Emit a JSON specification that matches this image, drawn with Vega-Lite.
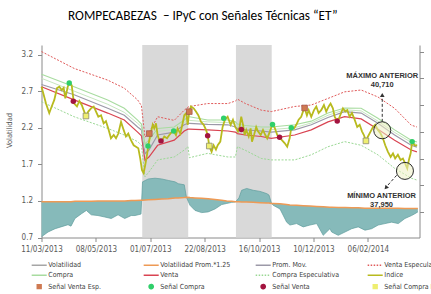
{
"$schema":"https://vega.github.io/schema/vega-lite/v6.json",
"width":378,"height":192.5,
"autosize":{"type":"none"},
"padding":{"left":41.5,"top":45,"right":11.5,"bottom":56.5},
"background":"white",
"title":{"text":"ROMPECABEZAS \u00a0– IPyC con Señales Técnicas “ET”","anchor":"start","frame":"group","dx":26.5,"offset":12,"baseline":"alphabetic","font":"Carlito, Lato","fontSize":13.3,"fontWeight":400,"color":"#000000"},
"config":{
 "view":{"stroke":null},
 "axis":{"domainColor":"#8a8a8a","tickColor":"#8a8a8a","labelColor":"#595959","labelFont":"Liberation Sans Narrow, Arial Narrow, DejaVu Sans Condensed, Liberation Sans, sans-serif","labelFontSize":8,"titleFont":"Liberation Sans Narrow, Arial Narrow, DejaVu Sans Condensed, Liberation Sans, sans-serif","grid":false}
},
"resolve":{"axis":{"y":"independent"}},
"datasets":{
 "shade":[{"t":74.1,"t2":107.9},{"t":143,"t2":169.3}],
 "bands":[
  {"t":0,"dr":3.24,"g":2.93,"g2":2.875,"pm":2.79,"r":2.76,"dg":2.555},
  {"t":24,"dr":3.01,"g":2.76,"g2":2.70,"pm":2.65,"r":2.58,"dg":2.35},
  {"t":48.7,"dr":2.85,"g":2.58,"g2":2.52,"pm":2.465,"r":2.40,"dg":2.19},
  {"t":60.9,"dr":2.74,"g":2.465,"g2":2.41,"pm":2.37,"r":2.305,"dg":2.10},
  {"t":70.7,"dr":2.58,"g":2.305,"g2":2.26,"pm":2.21,"r":2.14,"dg":2.01},
  {"t":73.5,"dr":2.50,"g":2.25,"g2":2.21,"pm":2.17,"r":2.09,"dg":1.96},
  {"t":76.1,"dr":2.07,"g":1.98,"g2":1.92,"pm":1.845,"r":1.755,"dg":1.53},
  {"t":79,"dr":2.13,"g":2.03,"g2":1.98,"pm":1.895,"r":1.80,"dg":1.595},
  {"t":85.4,"dr":2.35,"g":2.19,"g2":2.15,"pm":2.10,"r":1.96,"dg":1.76},
  {"t":97.6,"dr":2.30,"g":2.21,"g2":2.175,"pm":2.14,"r":2.03,"dg":1.80},
  {"t":105,"dr":2.44,"g":2.305,"g2":2.27,"pm":2.24,"r":2.155,"dg":1.895},
  {"t":107.7,"dr":2.48,"g":2.35,"g2":2.305,"pm":2.26,"r":2.18,"dg":1.94},
  {"t":108.8,"dr":2.49,"g":2.35,"g2":2.30,"pm":2.26,"r":2.18,"dg":1.79},
  {"t":122.2,"dr":2.53,"g":2.305,"g2":2.28,"pm":2.245,"r":2.17,"dg":1.85},
  {"t":137.1,"dr":2.53,"g":2.305,"g2":2.27,"pm":2.24,"r":2.155,"dg":1.80},
  {"t":142.6,"dr":2.565,"g":2.28,"g2":2.25,"pm":2.21,"r":2.14,"dg":1.80},
  {"t":144.1,"dr":2.59,"g":2.25,"g2":2.225,"pm":2.19,"r":2.12,"dg":1.94},
  {"t":150,"dr":2.53,"g":2.23,"g2":2.20,"pm":2.17,"r":2.10,"dg":1.89},
  {"t":161.6,"dr":2.44,"g":2.21,"g2":2.18,"pm":2.155,"r":2.08,"dg":1.78},
  {"t":169,"dr":2.42,"g":2.21,"g2":2.175,"pm":2.14,"r":2.055,"dg":1.76},
  {"t":186.2,"dr":2.49,"g":2.24,"g2":2.20,"pm":2.17,"r":2.10,"dg":1.76},
  {"t":198.4,"dr":2.51,"g":2.29,"g2":2.265,"pm":2.24,"r":2.17,"dg":1.83},
  {"t":210.7,"dr":2.60,"g":2.40,"g2":2.37,"pm":2.34,"r":2.28,"dg":1.94},
  {"t":222.9,"dr":2.69,"g":2.47,"g2":2.445,"pm":2.42,"r":2.35,"dg":2.01},
  {"t":235.1,"dr":2.715,"g":2.465,"g2":2.43,"pm":2.40,"r":2.32,"dg":1.96},
  {"t":247.4,"dr":2.62,"g":2.33,"g2":2.29,"pm":2.26,"r":2.18,"dg":1.83},
  {"t":259.7,"dr":2.465,"g":2.17,"g2":2.135,"pm":2.10,"r":2.03,"dg":1.645},
  {"t":271.9,"dr":2.235,"g":2.03,"g2":2.00,"pm":1.96,"r":1.895,"dg":1.51},
  {"t":276.1,"dr":2.21,"g":2.005,"g2":1.97,"pm":1.935,"r":1.87,"dg":1.485}
 ],
 "vol":[
  {"t":0,"vol":0.71,"vp":1.19},{"t":4.8,"vol":0.775,"vp":1.19},{"t":10,"vol":0.82,"vp":1.19},{"t":14.3,"vol":0.845,"vp":1.19},
  {"t":19.5,"vol":0.875,"vp":1.19},{"t":21.7,"vol":0.855,"vp":1.19},{"t":24.6,"vol":0.96,"vp":1.195},{"t":29.4,"vol":1.025,"vp":1.195},
  {"t":33,"vol":1.07,"vp":1.195},{"t":36.6,"vol":1.01,"vp":1.195},{"t":41.5,"vol":1.0,"vp":1.2},{"t":46.5,"vol":0.98,"vp":1.2},
  {"t":51.3,"vol":0.96,"vp":1.2},{"t":56.3,"vol":1.01,"vp":1.2},{"t":61.2,"vol":0.96,"vp":1.2},{"t":66,"vol":1.0,"vp":1.205},
  {"t":68.8,"vol":1.0,"vp":1.205},{"t":73.2,"vol":1.02,"vp":1.21},{"t":74.3,"vol":1.46,"vp":1.21},{"t":78.5,"vol":1.50,"vp":1.215},
  {"t":83.5,"vol":1.51,"vp":1.22},{"t":88.4,"vol":1.50,"vp":1.225},{"t":93.2,"vol":1.48,"vp":1.23},{"t":98.2,"vol":1.46,"vp":1.24},
  {"t":100.6,"vol":1.435,"vp":1.24},{"t":105,"vol":1.42,"vp":1.245},{"t":106.6,"vol":1.25,"vp":1.25},{"t":109.2,"vol":1.14,"vp":1.245},
  {"t":112.9,"vol":1.07,"vp":1.24},{"t":117.8,"vol":1.04,"vp":1.235},{"t":122.6,"vol":1.05,"vp":1.23},{"t":127.6,"vol":1.09,"vp":1.22},
  {"t":132.5,"vol":1.15,"vp":1.21},{"t":136.2,"vol":1.165,"vp":1.2},{"t":139.9,"vol":1.18,"vp":1.195},{"t":142.6,"vol":1.185,"vp":1.19},
  {"t":145.2,"vol":1.24,"vp":1.19},{"t":147.2,"vol":1.345,"vp":1.185},{"t":150.9,"vol":1.37,"vp":1.185},{"t":155.7,"vol":1.345,"vp":1.18},
  {"t":160.7,"vol":1.33,"vp":1.175},{"t":165.6,"vol":1.30,"vp":1.17},{"t":167.3,"vol":1.28,"vp":1.17},{"t":169.1,"vol":1.17,"vp":1.165},
  {"t":170.4,"vol":1.14,"vp":1.165},{"t":175.4,"vol":1.09,"vp":1.16},{"t":180.3,"vol":0.91,"vp":1.15},{"t":182.7,"vol":0.87,"vp":1.145},
  {"t":187.6,"vol":0.89,"vp":1.14},{"t":192.5,"vol":0.845,"vp":1.135},{"t":197.4,"vol":0.87,"vp":1.13},{"t":202.4,"vol":0.89,"vp":1.125},
  {"t":207.2,"vol":0.73,"vp":1.12},{"t":212.1,"vol":0.82,"vp":1.115},{"t":213.4,"vol":0.775,"vp":1.115},{"t":218.2,"vol":0.73,"vp":1.11},
  {"t":223.2,"vol":0.775,"vp":1.11},{"t":228.1,"vol":0.82,"vp":1.105},{"t":232.9,"vol":0.845,"vp":1.105},{"t":237.9,"vol":0.80,"vp":1.1},
  {"t":242.8,"vol":0.82,"vp":1.1},{"t":247.6,"vol":0.87,"vp":1.1},{"t":252.6,"vol":0.89,"vp":1.1},{"t":257.5,"vol":0.91,"vp":1.1},
  {"t":262.4,"vol":0.89,"vp":1.1},{"t":267.3,"vol":0.96,"vp":1.095},{"t":272.2,"vol":1.0,"vp":1.095},{"t":274.6,"vol":1.025,"vp":1.095},
  {"t":276.8,"vol":1.05,"vp":1.095}
 ],
 "idx":[
  {"t":0,"y":2.76},{"t":1.6,"y":2.65},{"t":3.3,"y":2.53},{"t":5.7,"y":2.40},{"t":7.5,"y":2.49},{"t":9.4,"y":2.58},{"t":11.4,"y":2.74},{"t":13.1,"y":2.76},{"t":14.9,"y":2.715},{"t":16.3,"y":2.745},
  {"t":17.5,"y":2.60},{"t":19.3,"y":2.76},{"t":20.4,"y":2.81},{"t":22.2,"y":2.78},{"t":23.4,"y":2.60},{"t":24.1,"y":2.53},{"t":26.1,"y":2.49},{"t":27.8,"y":2.565},{"t":29.6,"y":2.51},{"t":31.0,"y":2.44},
  {"t":32.7,"y":2.36},{"t":34.4,"y":2.42},{"t":36.4,"y":2.465},{"t":38.4,"y":2.49},{"t":40.1,"y":2.42},{"t":41.8,"y":2.35},{"t":43.8,"y":2.37},{"t":45.7,"y":2.26},{"t":47.4,"y":2.29},{"t":49.1,"y":2.19},
  {"t":51.1,"y":2.055},{"t":53.1,"y":2.10},{"t":54.8,"y":2.055},{"t":56.5,"y":2.12},{"t":58.5,"y":2.28},{"t":60.4,"y":2.17},{"t":62.1,"y":2.08},{"t":63.8,"y":2.12},{"t":65.8,"y":2.03},{"t":67.8,"y":1.96},
  {"t":69.5,"y":1.94},{"t":71.2,"y":1.92},{"t":72.6,"y":1.78},{"t":73.9,"y":1.62},{"t":75.1,"y":1.58},{"t":76.3,"y":1.69},{"t":77.6,"y":1.83},{"t":78.5,"y":1.95},{"t":80.0,"y":2.10},{"t":81.8,"y":2.24},
  {"t":82.9,"y":2.19},{"t":84.2,"y":2.26},{"t":85.4,"y":2.10},{"t":86.6,"y":2.03},{"t":88.4,"y":2.02},{"t":90.3,"y":2.08},{"t":92.3,"y":2.055},{"t":94.0,"y":2.10},{"t":95.7,"y":2.14},{"t":97.2,"y":2.155},
  {"t":98.9,"y":2.10},{"t":100.1,"y":2.19},{"t":102.1,"y":2.12},{"t":103.8,"y":2.26},{"t":105.0,"y":2.37},{"t":106.5,"y":2.40},{"t":107.5,"y":2.24},{"t":108.7,"y":2.42},{"t":109.9,"y":2.49},{"t":111.9,"y":2.465},
  {"t":113.6,"y":2.42},{"t":115.3,"y":2.37},{"t":117.3,"y":2.28},{"t":119.3,"y":2.24},{"t":121.0,"y":2.17},{"t":122.2,"y":2.10},{"t":123.4,"y":1.95},{"t":125.1,"y":1.87},{"t":126.6,"y":1.96},{"t":128.3,"y":1.90},
  {"t":129.6,"y":1.96},{"t":131.5,"y":2.01},{"t":133.2,"y":2.21},{"t":134.9,"y":2.31},{"t":136.9,"y":2.35},{"t":139.1,"y":2.24},{"t":140.8,"y":2.31},{"t":142.5,"y":2.21},{"t":144.5,"y":2.15},{"t":145.7,"y":2.21},
  {"t":146.9,"y":2.35},{"t":148.2,"y":2.24},{"t":149.4,"y":2.10},{"t":150.6,"y":2.17},{"t":152.4,"y":2.08},{"t":153.8,"y":2.19},{"t":154.8,"y":2.01},{"t":156.3,"y":2.10},{"t":157.9,"y":2.21},{"t":159.2,"y":2.15},
  {"t":161.2,"y":2.10},{"t":162.9,"y":2.17},{"t":164.6,"y":2.10},{"t":166.0,"y":2.055},{"t":167.8,"y":2.14},{"t":169.7,"y":2.24},{"t":171.5,"y":2.20},{"t":173.4,"y":2.10},{"t":175.1,"y":2.07},{"t":176.8,"y":2.03},
  {"t":178.8,"y":1.99},{"t":180.7,"y":1.94},{"t":182.5,"y":2.055},{"t":183.7,"y":2.20},{"t":185.7,"y":2.19},{"t":187.4,"y":2.24},{"t":189.1,"y":2.31},{"t":191.0,"y":2.35},{"t":192.3,"y":2.42},{"t":193.5,"y":2.47},
  {"t":195.2,"y":2.37},{"t":196.5,"y":2.44},{"t":198.4,"y":2.35},{"t":200.4,"y":2.44},{"t":202.1,"y":2.49},{"t":203.8,"y":2.40},{"t":205.7,"y":2.44},{"t":207.7,"y":2.51},{"t":209.4,"y":2.42},{"t":211.2,"y":2.49},
  {"t":212.6,"y":2.53},{"t":214.3,"y":2.465},{"t":215.6,"y":2.35},{"t":216.8,"y":2.31},{"t":218.0,"y":2.29},{"t":219.7,"y":2.37},{"t":221.7,"y":2.465},{"t":223.4,"y":2.42},{"t":224.9,"y":2.44},{"t":226.6,"y":2.35},
  {"t":228.3,"y":2.40},{"t":230.3,"y":2.31},{"t":232.2,"y":2.21},{"t":234.0,"y":2.24},{"t":235.7,"y":2.15},{"t":237.1,"y":2.10},{"t":238.6,"y":2.02},{"t":240.1,"y":2.08},{"t":242.1,"y":2.15},{"t":243.8,"y":2.21},
  {"t":245.4,"y":2.24},{"t":247.4,"y":2.17},{"t":249.4,"y":2.12},{"t":251.1,"y":2.055},{"t":252.8,"y":1.96},{"t":254.8,"y":1.87},{"t":256.8,"y":1.80},{"t":258.5,"y":1.85},{"t":260.1,"y":1.78},{"t":262.1,"y":1.83},
  {"t":264.1,"y":1.76},{"t":265.8,"y":1.78},{"t":267.5,"y":1.71},{"t":269.0,"y":1.645},{"t":270.2,"y":1.76},{"t":271.5,"y":1.85},{"t":272.6,"y":2.01},{"t":274.4,"y":1.96},{"t":276.3,"y":1.96}
 ],
 "sig":[
  {"t":20.4,"y":2.81,"s":"Señal Compra"},{"t":78.3,"y":1.95,"s":"Señal Compra"},{"t":97.2,"y":2.155,"s":"Señal Compra"},{"t":134,"y":2.33,"s":"Señal Compra"},{"t":169.9,"y":2.245,"s":"Señal Compra"},{"t":183.7,"y":2.20,"s":"Señal Compra"},{"t":272.6,"y":2.01,"s":"Señal Compra"},
  {"t":23.4,"y":2.56,"s":"Señal Venta"},{"t":87.9,"y":2.02,"s":"Señal Venta"},{"t":122.2,"y":2.09,"s":"Señal Venta"},{"t":147,"y":2.175,"s":"Señal Venta"},{"t":175.1,"y":2.07,"s":"Señal Venta"},{"t":217.5,"y":2.29,"s":"Señal Venta"},
  {"t":79.3,"y":2.12,"s":"Señal Venta Esp."},{"t":108.7,"y":2.42,"s":"Señal Venta Esp."},{"t":193.5,"y":2.47,"s":"Señal Venta Esp."},
  {"t":32.7,"y":2.36,"s":"Señal Compra Esp."},{"t":123.4,"y":1.95,"s":"Señal Compra Esp."},{"t":238.6,"y":2.02,"s":"Señal Compra Esp."}
 ],
 "circ":[{"t":250.6,"y":2.165},{"t":267.3,"y":1.61}],
 "txt":[{"t":250.6,"y":2.90,"label":"MÁXIMO ANTERIOR"},{"t":250.6,"y":2.79,"label":"40,710"},{"t":250.1,"y":1.267,"label":"MÍNIMO ANTERIOR"},{"t":250.1,"y":1.15,"label":"37,950"}],
 "arr":[{"t":250.6,"y":2.28,"t2":250.6,"y2":2.63},{"t":261.2,"y":1.55,"t2":254,"y2":1.40}],
 "headUp":[{"t":250.6,"y":2.646}],
 "headDown":[{"t":253.3,"y":1.379}]
},
"encoding":{"x":{"field":"t","type":"quantitative","scale":{"domain":[0,278],"nice":false,"zero":false},
  "axis":{"title":null,"values":[0,40,80,120,160,200,240],"labelExpr":"['11/03/2013','08/05/2013','01/07/2013','22/08/2013','16/10/2013','10/12/2013','06/02/2014'][round(datum.value/40)]","labelFlush":false,"labelOverlap":false,"tickSize":4,"labelPadding":4}}},
"layer":[
 {"data":{"name":"shade"},"mark":{"type":"rect","color":"#d9d9d9"},
  "encoding":{"x2":{"field":"t2"},
   "y":{"datum":3.33,"type":"quantitative","scale":{"domain":[0.7,3.33],"nice":false,"zero":false},"axis":null},
   "y2":{"datum":0.7}}},
 {"data":{"name":"vol"},"mark":{"type":"area","color":"#86baba","opacity":1},
  "encoding":{"y":{"field":"vol","type":"quantitative","scale":{"domain":[0.7,3.33],"nice":false,"zero":false},"axis":null},"y2":{"field":"vp"}}},
 {"data":{"name":"vol"},"mark":{"type":"line","color":"#5e9c9c","strokeWidth":0.7},
  "encoding":{"y":{"field":"vol","type":"quantitative","scale":{"domain":[0.7,3.33],"nice":false,"zero":false},"axis":null}}},
 {"data":{"name":"vol"},"mark":{"type":"line","strokeWidth":1.5},
  "encoding":{"y":{"field":"vp","type":"quantitative","scale":{"domain":[0.7,3.33],"nice":false,"zero":false},"axis":null},
   "color":{"datum":"Volatilidad Prom.*1.25","type":"nominal","scale":{"domain":["Volatilidad","Volatilidad Prom.*1.25","Prom. Mov.","Venta Especulativa","Compra","Venta","Compra Especulativa","Indice","Señal Venta Esp.","Señal Compra","Señal Venta","Señal Compra Esp."],"range":["#a6a6a6","#ee9a55","#9c99a8","#e05a5a","#a8dca0","#d94452","#9ad894","#b8ba1e","#cf7a52","#2fcf6a","#a3143f","#eeee70"]}}}},
 {"data":{"name":"bands"},"mark":{"type":"line","strokeWidth":1,"strokeDash":[2,1.5]},
  "encoding":{"y":{"field":"dg","type":"quantitative","scale":{"domain":[0.7,3.33],"nice":false,"zero":false},"axis":null},
   "color":{"datum":"Compra Especulativa","type":"nominal","scale":{"domain":["Volatilidad","Volatilidad Prom.*1.25","Prom. Mov.","Venta Especulativa","Compra","Venta","Compra Especulativa","Indice","Señal Venta Esp.","Señal Compra","Señal Venta","Señal Compra Esp."],"range":["#a6a6a6","#ee9a55","#9c99a8","#e05a5a","#a8dca0","#d94452","#9ad894","#b8ba1e","#cf7a52","#2fcf6a","#a3143f","#eeee70"]}}}},
 {"data":{"name":"bands"},"mark":{"type":"line","strokeWidth":1,"strokeDash":[2,1.5]},
  "encoding":{"y":{"field":"dr","type":"quantitative","scale":{"domain":[0.7,3.33],"nice":false,"zero":false},
    "axis":{"orient":"right","title":null,"labels":false,"values":[0.693,1.048,1.417,1.776,2.141,2.514,2.879,3.234],"tickSize":4}},
   "color":{"datum":"Venta Especulativa","type":"nominal","scale":{"domain":["Volatilidad","Volatilidad Prom.*1.25","Prom. Mov.","Venta Especulativa","Compra","Venta","Compra Especulativa","Indice","Señal Venta Esp.","Señal Compra","Señal Venta","Señal Compra Esp."],"range":["#a6a6a6","#ee9a55","#9c99a8","#e05a5a","#a8dca0","#d94452","#9ad894","#b8ba1e","#cf7a52","#2fcf6a","#a3143f","#eeee70"]}}}},
 {"data":{"name":"bands"},"mark":{"type":"line","strokeWidth":1.2},
  "encoding":{"y":{"field":"r","type":"quantitative","scale":{"domain":[0.7,3.33],"nice":false,"zero":false},"axis":null},
   "color":{"datum":"Venta","type":"nominal","scale":{"domain":["Volatilidad","Volatilidad Prom.*1.25","Prom. Mov.","Venta Especulativa","Compra","Venta","Compra Especulativa","Indice","Señal Venta Esp.","Señal Compra","Señal Venta","Señal Compra Esp."],"range":["#a6a6a6","#ee9a55","#9c99a8","#e05a5a","#a8dca0","#d94452","#9ad894","#b8ba1e","#cf7a52","#2fcf6a","#a3143f","#eeee70"]}}}},
 {"data":{"name":"bands"},"mark":{"type":"line","strokeWidth":1.2},
  "encoding":{"y":{"field":"pm","type":"quantitative","scale":{"domain":[0.7,3.33],"nice":false,"zero":false},"axis":null},
   "color":{"datum":"Prom. Mov.","type":"nominal","scale":{"domain":["Volatilidad","Volatilidad Prom.*1.25","Prom. Mov.","Venta Especulativa","Compra","Venta","Compra Especulativa","Indice","Señal Venta Esp.","Señal Compra","Señal Venta","Señal Compra Esp."],"range":["#a6a6a6","#ee9a55","#9c99a8","#e05a5a","#a8dca0","#d94452","#9ad894","#b8ba1e","#cf7a52","#2fcf6a","#a3143f","#eeee70"]}}}},
 {"data":{"name":"bands"},"mark":{"type":"line","strokeWidth":1,"color":"#c6e6bf"},
  "encoding":{"y":{"field":"g2","type":"quantitative","scale":{"domain":[0.7,3.33],"nice":false,"zero":false},"axis":null}}},
 {"data":{"name":"bands"},"mark":{"type":"line","strokeWidth":1.1},
  "encoding":{"y":{"field":"g","type":"quantitative","scale":{"domain":[0.7,3.33],"nice":false,"zero":false},"axis":null},
   "color":{"datum":"Compra","type":"nominal","scale":{"domain":["Volatilidad","Volatilidad Prom.*1.25","Prom. Mov.","Venta Especulativa","Compra","Venta","Compra Especulativa","Indice","Señal Venta Esp.","Señal Compra","Señal Venta","Señal Compra Esp."],"range":["#a6a6a6","#ee9a55","#9c99a8","#e05a5a","#a8dca0","#d94452","#9ad894","#b8ba1e","#cf7a52","#2fcf6a","#a3143f","#eeee70"]}}}},
 {"data":{"name":"idx"},"mark":{"type":"line","strokeWidth":1.8},
  "encoding":{"y":{"field":"y","type":"quantitative","scale":{"domain":[0.7,3.33],"nice":false,"zero":false},
    "axis":{"title":"Volatilidad","values":[0.7,1.2,1.7,2.2,2.7,3.2],"format":".1f","tickSize":4,"labelPadding":5,"titleX":-28,"titleY":85,"titleAngle":-90,"titleBaseline":"bottom","titleFontSize":7.5,"titleFontWeight":"normal","titleColor":"#595959"}},
   "color":{"datum":"Indice","type":"nominal","scale":{"domain":["Volatilidad","Volatilidad Prom.*1.25","Prom. Mov.","Venta Especulativa","Compra","Venta","Compra Especulativa","Indice","Señal Venta Esp.","Señal Compra","Señal Venta","Señal Compra Esp."],"range":["#a6a6a6","#ee9a55","#9c99a8","#e05a5a","#a8dca0","#d94452","#9ad894","#b8ba1e","#cf7a52","#2fcf6a","#a3143f","#eeee70"]},
    "legend":{"title":null,"orient":"none","direction":"horizontal","legendX":-6.8,"legendY":214.5,"columns":4,"gridAlign":"all","columnPadding":21,"rowPadding":0.3,"padding":0,
     "labelFont":"Liberation Sans Narrow, Arial Narrow, DejaVu Sans Condensed, Liberation Sans, sans-serif","labelFontSize":7,"labelColor":"#404040","symbolSize":49,"symbolStrokeWidth":1.5,"labelOffset":4.6,"symbolOffset":0,
     "encode":{"symbols":{"update":{
      "shape":{"signal":"indexof(datum.value,'Señal') == 0 ? (indexof(datum.value,'Esp') > 0 ? 'M-0.55,-0.55L0.55,-0.55L0.55,0.55L-0.55,0.55Z' : 'M0.6,0A0.6,0.6,0,1,1,-0.6,0A0.6,0.6,0,1,1,0.6,0Z') : 'M-2.15,0L2.15,0'"},
      "fill":{"signal":"indexof(datum.value,'Señal') == 0 ? scale('color', datum.value) : 'transparent'"},
      "stroke":{"signal":"datum.value == 'Señal Compra Esp.' ? '#999999' : (datum.value == 'Señal Venta Esp.' ? '#a0504a' : scale('color', datum.value))"},
      "strokeDash":{"signal":"indexof(datum.value,'Especulativa') > 0 ? [1.5,1.5] : [1,0]"},
      "opacity":{"value":1}}}}}}}},
 {"data":{"name":"sig"},"transform":[{"filter":"datum.s == 'Señal Compra' || datum.s == 'Señal Venta'"}],"mark":{"type":"point","shape":"circle","filled":true,"size":30,"opacity":1},
  "encoding":{"y":{"field":"y","type":"quantitative","scale":{"domain":[0.7,3.33],"nice":false,"zero":false},"axis":null},
   "color":{"field":"s","type":"nominal","title":null,"scale":{"domain":["Volatilidad","Volatilidad Prom.*1.25","Prom. Mov.","Venta Especulativa","Compra","Venta","Compra Especulativa","Indice","Señal Venta Esp.","Señal Compra","Señal Venta","Señal Compra Esp."],"range":["#a6a6a6","#ee9a55","#9c99a8","#e05a5a","#a8dca0","#d94452","#9ad894","#b8ba1e","#cf7a52","#2fcf6a","#a3143f","#eeee70"]}}}},
 {"data":{"name":"sig"},"transform":[{"filter":"datum.s == 'Señal Venta Esp.'"}],"mark":{"type":"point","shape":"square","filled":true,"size":32,"opacity":1,"stroke":"#a0504a","strokeWidth":0.7},
  "encoding":{"y":{"field":"y","type":"quantitative","scale":{"domain":[0.7,3.33],"nice":false,"zero":false},"axis":null},
   "color":{"field":"s","type":"nominal","title":null,"scale":{"domain":["Volatilidad","Volatilidad Prom.*1.25","Prom. Mov.","Venta Especulativa","Compra","Venta","Compra Especulativa","Indice","Señal Venta Esp.","Señal Compra","Señal Venta","Señal Compra Esp."],"range":["#a6a6a6","#ee9a55","#9c99a8","#e05a5a","#a8dca0","#d94452","#9ad894","#b8ba1e","#cf7a52","#2fcf6a","#a3143f","#eeee70"]}}}},
 {"data":{"name":"sig"},"transform":[{"filter":"datum.s == 'Señal Compra Esp.'"}],"mark":{"type":"point","shape":"square","filled":true,"size":32,"opacity":1,"stroke":"#8a8a70","strokeWidth":0.8},
  "encoding":{"y":{"field":"y","type":"quantitative","scale":{"domain":[0.7,3.33],"nice":false,"zero":false},"axis":null},
   "color":{"field":"s","type":"nominal","title":null,"scale":{"domain":["Volatilidad","Volatilidad Prom.*1.25","Prom. Mov.","Venta Especulativa","Compra","Venta","Compra Especulativa","Indice","Señal Venta Esp.","Señal Compra","Señal Venta","Señal Compra Esp."],"range":["#a6a6a6","#ee9a55","#9c99a8","#e05a5a","#a8dca0","#d94452","#9ad894","#b8ba1e","#cf7a52","#2fcf6a","#a3143f","#eeee70"]}}}},
 {"data":{"name":"circ"},"mark":{"type":"point","shape":"circle","size":290,"filled":true,"fill":"#eef0c4","fillOpacity":0.55,"stroke":"#2a2a2a","strokeWidth":1,"opacity":1},
  "encoding":{"y":{"field":"y","type":"quantitative","scale":{"domain":[0.7,3.33],"nice":false,"zero":false},"axis":null}}},
 {"data":{"name":"arr"},"mark":{"type":"rule","color":"#333333","strokeWidth":1,"strokeDash":[3,2]},
  "encoding":{"x2":{"field":"t2"},"y":{"field":"y","type":"quantitative","scale":{"domain":[0.7,3.33],"nice":false,"zero":false},"axis":null},"y2":{"field":"y2"}}},
 {"data":{"name":"headUp"},"mark":{"type":"point","shape":"triangle-up","filled":true,"size":22,"color":"#333333","opacity":1},
  "encoding":{"y":{"field":"y","type":"quantitative","scale":{"domain":[0.7,3.33],"nice":false,"zero":false},"axis":null}}},
 {"data":{"name":"headDown"},"mark":{"type":"point","shape":"triangle-up","angle":221,"filled":true,"size":22,"color":"#333333","opacity":1},
  "encoding":{"y":{"field":"y","type":"quantitative","scale":{"domain":[0.7,3.33],"nice":false,"zero":false},"axis":null}}},
 {"data":{"name":"txt"},"mark":{"type":"text","font":"Liberation Sans","fontWeight":"bold","fontSize":7.5,"color":"#333333","align":"center","baseline":"middle"},
  "encoding":{"y":{"field":"y","type":"quantitative","scale":{"domain":[0.7,3.33],"nice":false,"zero":false},"axis":null},"text":{"field":"label"}}}
]
}
